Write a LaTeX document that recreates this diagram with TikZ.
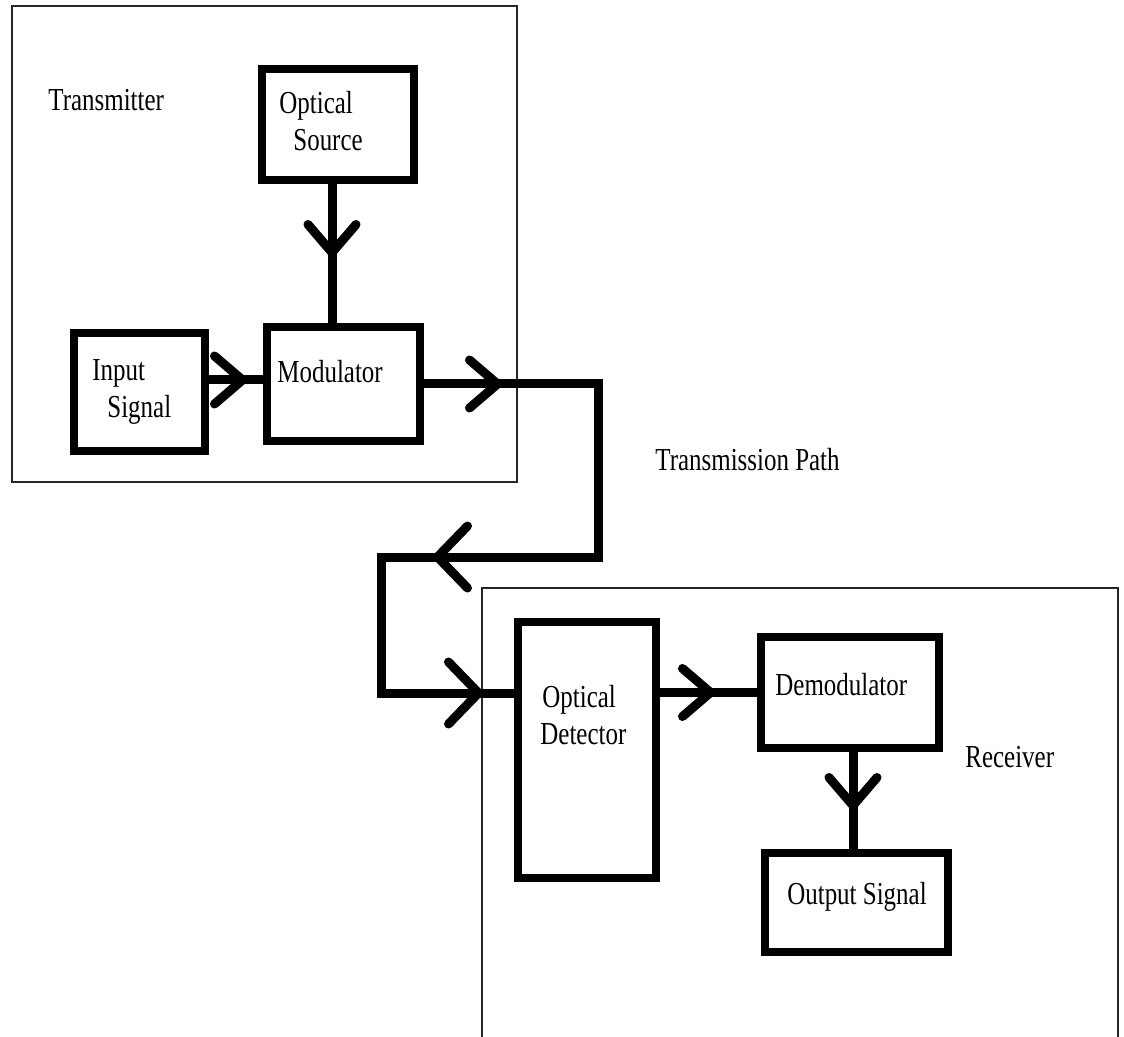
\documentclass[tikz,border=0pt]{standalone}
\usepackage{fontspec}
\setmainfont{Liberation Serif}[FakeStretch=0.78]
\usepackage{tikz}
\usetikzlibrary{positioning}
\usetikzlibrary{arrows.meta}
\usetikzlibrary{calc,decorations.markings}
\tikzset{
  chev/.tip={Straight Barb[length=14pt,width=24pt,round]},
  bigchev/.tip={Straight Barb[length=15pt,width=31pt,round]}
}

\begin{document}
\begin{tikzpicture}[x=0.5pt,y=-0.5pt,
	every node/.style={inner sep=0pt,font=\fontsize{16}{18.5}\selectfont},
	blk/.style={draw,line width=4pt},
	frame/.style={draw,line width=0.75pt,black!85},
	conn/.style={line width=4.5pt},
	lbl/.style={anchor=west,align=left},
	chevat/.style={postaction={decorate,decoration={markings,mark=at position #1 with {\arrow{chev}}}}},
	bigchevat/.style={postaction={decorate,decoration={markings,mark=at position #1 with {\arrow{bigchev}}}}}]
	%% page size
	\useasboundingbox (0,0) rectangle (1124,1037);
	
	% transmitter and receiver frames
	\draw[frame] (12,6) rectangle (517,482);
	\draw[frame] (482,1045) |- (1118,588) -- (1118,1045);
	
	\node[lbl] (txlbl) at (48,100) {Transmitter};
	\node[lbl] (pathlbl) at (655,460) {Transmission Path};
	\node[lbl] (rxlbl) at (965,757) {Receiver};
	
	% transmitter blocks
	\node[blk,minimum width=76pt,minimum height=55.5pt] (src) at (338,124.5) {};
	\node[blk,minimum width=65.5pt,minimum height=59pt] (insig) at (139.5,392) {};
	\node[blk,minimum width=76.5pt,minimum height=57pt] (mod) at (343.5,384) {};
	
	\node[lbl] (srctxt) at (279,121) {Optical\\\hspace*{7pt}Source};
	\node[lbl] (insigtxt) at (92,391.5) {Input\\\hspace*{7.5pt}Signal};
	\node[lbl] (modtxt) at (277,372) {Modulator};
	
	% receiver blocks
	\node[blk,minimum width=69pt,minimum height=128pt] (det) at (587,750) {};
	\node[blk,minimum width=89pt,minimum height=55.5pt] (demod) at (850,692.5) {};
	\node[blk,minimum width=91.5pt,minimum height=49.5pt] (outsig) at (856.5,902.5) {};
	
	\node[lbl] (dettxt) at (540,715) {\hspace*{1pt}Optical\\Detector};
	\node[lbl] (demodtxt) at (775,685) {Demodulator};
	\node[anchor=center] (outsigtxt) at (857,897) {Output Signal};
	
	% connectors
	\draw[conn,chevat=36.5pt] (src.south -| 332,0) -- (mod.north -| 332,0);
	\draw[conn,chevat=19pt] (insig.east |- 0,380) -- (mod.west |- 0,380);
	\draw[conn,chevat=39pt,bigchevat=256pt,bigchevat=-15.5pt]
		(mod.east) -| (598,557) -- (381,557) |- (det.west |- 0,693);
	\draw[conn,chevat=27.5pt] (det.east |- demod.west) -- (demod.west);
	\draw[conn,chevat=29pt] (demod.south -| 853,0) -- (outsig.north -| 853,0);
	
\end{tikzpicture}
\end{document}
